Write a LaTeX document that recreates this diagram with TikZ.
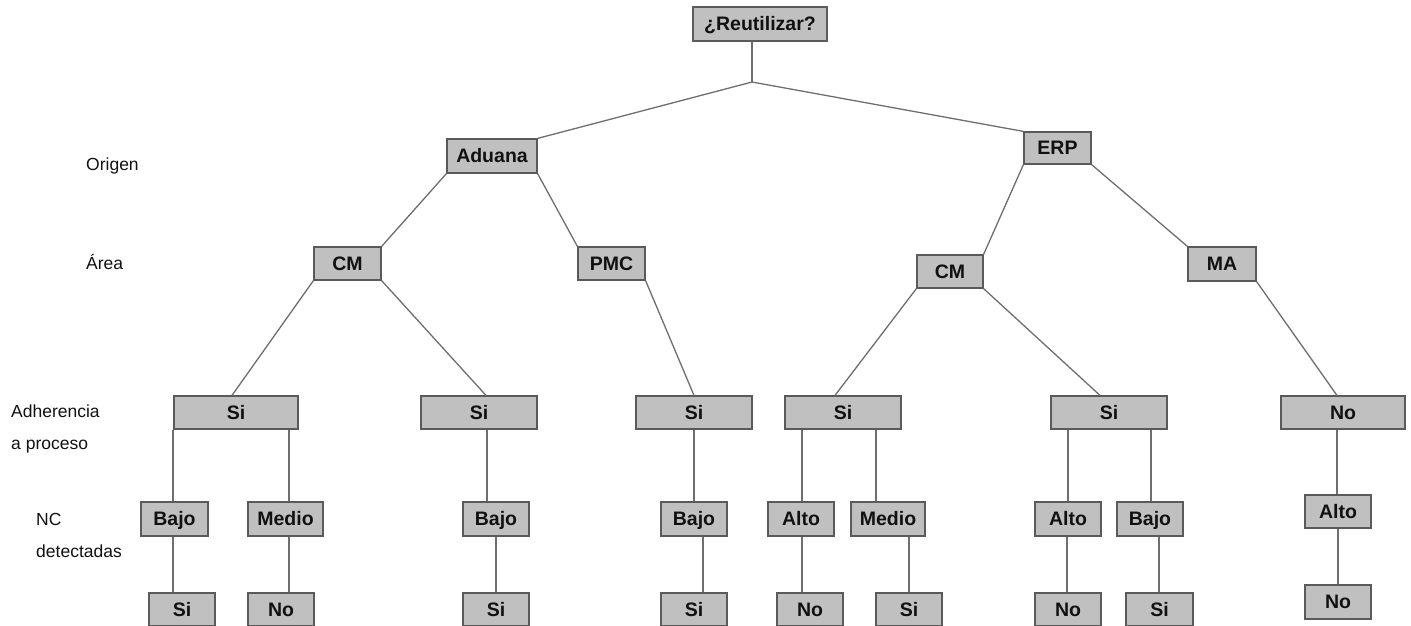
\documentclass[tikz,border=0pt]{standalone}
\usepackage{fontspec}
\setmainfont{Liberation Sans}
\definecolor{boxfill}{HTML}{C0C0C0}
\definecolor{boxline}{HTML}{5A5A5A}
\definecolor{linkgray}{HTML}{6E6E6E}
\definecolor{ink}{HTML}{111111}
\begin{document}
\begin{tikzpicture}[x=1pt,y=-1pt,
  box/.style={draw=boxline, fill=boxfill, line width=1.2pt, rectangle,
    inner sep=0pt, text=ink, text height=13.6pt, text depth=0.5pt,
    font=\fontsize{19.5}{22}\selectfont\bfseries},
  link/.style={draw=linkgray, line width=1.3pt},
  lbl/.style={inner sep=0pt, anchor=base west, text=ink,
    font=\fontsize{17.5}{21}\selectfont}]
\useasboundingbox (0,0) rectangle (1411,625);

% level labels
\node[lbl] (lorigen) at (86,170) {Origen};
\node[lbl] (larea)   at (86,269) {Área};
\node[lbl] (ladh1)   at (11,417) {Adherencia};
\node[lbl] (ladh2)   at (11,449) {a proceso};
\node[lbl] (lnc1)    at (36,525) {NC};
\node[lbl] (lnc2)    at (36,557) {detectadas};

% root and first levels
\node[box, minimum width=134pt, minimum height=34pt] (root) at (760,24) {¿Reutilizar?};
\coordinate (split) at (752,82);
\node[box, minimum width=90pt, minimum height=34pt] (aduana) at (492,156) {Aduana};
\node[box, minimum width=67pt, minimum height=32pt] (erp) at (1057.5,148) {ERP};
\node[box, minimum width=67pt, minimum height=33pt] (cm1) at (347.5,263.5) {CM};
\node[box, minimum width=67pt, minimum height=33pt] (pmc) at (611.5,263.5) {PMC};
\node[box, minimum width=66pt, minimum height=33pt] (cm2) at (950,271.5) {CM};
\node[box, minimum width=68pt, minimum height=34pt] (ma) at (1222,264) {MA};

% adherencia a proceso
\node[box, minimum width=124pt, minimum height=33pt] (si1) at (236,412.5) {Si};
\node[box, minimum width=116pt, minimum height=33pt] (si2) at (479,412.5) {Si};
\node[box, minimum width=116pt, minimum height=33pt] (si3) at (694,412.5) {Si};
\node[box, minimum width=116pt, minimum height=33pt] (si4) at (843,412.5) {Si};
\node[box, minimum width=116pt, minimum height=33pt] (si5) at (1109,412.5) {Si};
\node[box, minimum width=124pt, minimum height=33pt] (no6) at (1343,412.5) {No};

% NC detectadas
\node[box, minimum width=67pt, minimum height=34pt] (bajo1) at (174.5,519) {Bajo};
\node[box, minimum width=75pt, minimum height=34pt] (medio1) at (285.5,519) {Medio};
\node[box, minimum width=66pt, minimum height=34pt] (bajo2) at (496,519) {Bajo};
\node[box, minimum width=66pt, minimum height=34pt] (bajo3) at (694,519) {Bajo};
\node[box, minimum width=66pt, minimum height=34pt] (alto4) at (801,519) {Alto};
\node[box, minimum width=74pt, minimum height=34pt] (medio4) at (888,519) {Medio};
\node[box, minimum width=66pt, minimum height=34pt] (alto5) at (1068,519) {Alto};
\node[box, minimum width=66pt, minimum height=34pt] (bajo5) at (1150,519) {Bajo};
\node[box, minimum width=66pt, minimum height=33pt] (alto6) at (1338,511.5) {Alto};

% outcome
\node[box, minimum width=66pt, minimum height=33pt] (sib1) at (182,609.5) {Si};
\node[box, minimum width=66pt, minimum height=33pt] (nob1) at (281,609.5) {No};
\node[box, minimum width=66pt, minimum height=33pt] (sib2) at (496,609.5) {Si};
\node[box, minimum width=66pt, minimum height=33pt] (sib3) at (694,609.5) {Si};
\node[box, minimum width=66pt, minimum height=33pt] (nob4) at (810,609.5) {No};
\node[box, minimum width=66pt, minimum height=33pt] (sib4) at (909,609.5) {Si};
\node[box, minimum width=66pt, minimum height=33pt] (nob5) at (1068,609.5) {No};
\node[box, minimum width=67pt, minimum height=33pt] (sib5) at (1159.5,609.5) {Si};
\node[box, minimum width=66pt, minimum height=34pt] (nob6) at (1338,602) {No};

% connectors: root to origin
\draw[link] (root.south -| split) -- (split);
\draw[link] (split) -- (aduana.north east);
\draw[link] (split) -- (erp.north west);
% origin to area
\draw[link] (aduana.south west) -- (cm1.north east);
\draw[link] (aduana.south east) -- (pmc.north west);
\draw[link] (erp.south west) -- (cm2.north east);
\draw[link] (erp.south east) -- (ma.north west);
% area to adherencia
\draw[link] (cm1.south west) -- ([xshift=-4pt]si1.north);
\draw[link] (cm1.south east) -- ([xshift=7pt]si2.north);
\draw[link] (pmc.south east) -- (si3.north);
\draw[link] (cm2.south west) -- ([xshift=-8pt]si4.north);
\draw[link] (cm2.south east) -- ([xshift=-9pt]si5.north);
\draw[link] (ma.south east) -- ([xshift=-6pt]no6.north);
% adherencia to NC
\draw[link] ([xshift=-1.5pt]bajo1.north |- si1.south) -- ([xshift=-1.5pt]bajo1.north);
\draw[link] ([xshift=3.5pt]medio1.north |- si1.south) -- ([xshift=3.5pt]medio1.north);
\draw[link] ([xshift=-9pt]bajo2.north |- si2.south) -- ([xshift=-9pt]bajo2.north);
\draw[link] (bajo3.north |- si3.south) -- (bajo3.north);
\draw[link] ([xshift=1pt]alto4.north |- si4.south) -- ([xshift=1pt]alto4.north);
\draw[link] ([xshift=-12pt]medio4.north |- si4.south) -- ([xshift=-12pt]medio4.north);
\draw[link] (alto5.north |- si5.south) -- (alto5.north);
\draw[link] ([xshift=1pt]bajo5.north |- si5.south) -- ([xshift=1pt]bajo5.north);
\draw[link] ([xshift=-1pt]alto6.north |- no6.south) -- ([xshift=-1pt]alto6.north);
% NC to outcome
\draw[link] ([xshift=-9pt]sib1.north |- bajo1.south) -- ([xshift=-9pt]sib1.north);
\draw[link] ([xshift=8pt]nob1.north |- medio1.south) -- ([xshift=8pt]nob1.north);
\draw[link] (sib2.north |- bajo2.south) -- (sib2.north);
\draw[link] ([xshift=9pt]sib3.north |- bajo3.south) -- ([xshift=9pt]sib3.north);
\draw[link] ([xshift=-8pt]nob4.north |- alto4.south) -- ([xshift=-8pt]nob4.north);
\draw[link] (sib4.north |- medio4.south) -- (sib4.north);
\draw[link] ([xshift=-1pt]nob5.north |- alto5.south) -- ([xshift=-1pt]nob5.north);
\draw[link] ([xshift=-0.5pt]sib5.north |- bajo5.south) -- ([xshift=-0.5pt]sib5.north);
\draw[link] (nob6.north |- alto6.south) -- (nob6.north);
\end{tikzpicture}
\end{document}
